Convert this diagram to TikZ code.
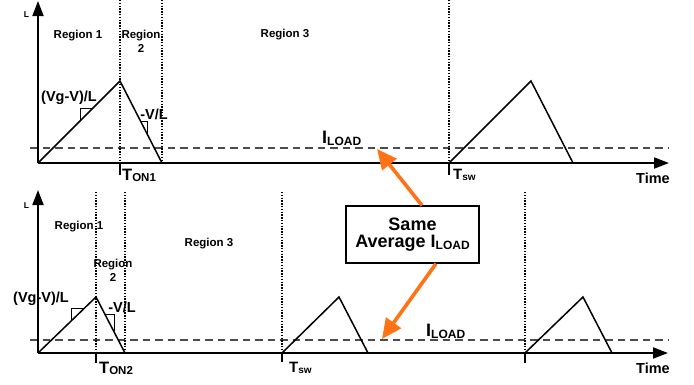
\documentclass[tikz,border=0pt]{standalone}
\usepackage{fontspec}
\setmainfont{Liberation Sans}
\usetikzlibrary{arrows.meta}
\definecolor{orng}{RGB}{255,115,20}
\newcommand{\fs}[1]{\fontsize{#1}{#1}\selectfont}
\begin{document}
\begin{tikzpicture}[x=1pt,y=-1pt,
  axis/.style={line width=1.9pt,-{Triangle[length=15pt,width=11pt]}},
  wave/.style={line width=1.5pt,line join=miter},
  loadline/.style={line width=1.1pt,black!70,dash pattern=on 7.5pt off 5pt},
  vdot/.style={line width=1.4pt,dash pattern=on 1.3pt off 1.5pt},
  tickmark/.style={line width=1.3pt},
  ramark/.style={line width=1pt},
  lbl/.style={inner sep=0pt,anchor=base,font=\bfseries},
  reg/.style={lbl,font=\fs{11.5}\bfseries},
  slope/.style={lbl,font=\fs{14.5}\bfseries},
  oarrow/.style={orng,line width=3.6pt,-{Triangle[length=20pt,width=18pt]}},
  note/.style={draw,line width=1.3pt,minimum width=133pt,minimum height=57pt,
    align=center,font=\fs{18}\bfseries,inner sep=0pt}
]
\useasboundingbox (0,0) rectangle (694,384);

% ---------------- top panel ----------------
\coordinate (o1) at (38,163);
\coordinate (ya1) at (38,1);
\coordinate (xa1) at (669,163);
\coordinate (p1) at (120,81);
\coordinate (q1) at (162,163);
\coordinate (s1) at (449,163);
\coordinate (p2) at (531,81);
\coordinate (q2) at (573,163);
\coordinate (d1a) at (30,148);
\coordinate (d1b) at (669,148);

\draw[loadline] (d1a) -- (d1b);
\draw[vdot] (120,0) -- (120,163);
\draw[vdot] (162,0) -- (162,163);
\draw[vdot] (449,0) -- (s1);
\draw[tickmark] (120,163) -- (120,175);
\draw[tickmark] (449,163) -- (449,175);
\draw[wave] (o1) -- (p1) -- (q1);
\draw[wave] (s1) -- (p2) -- (q2);
\draw[ramark] (80,121) -- (80,108) -- (93,108);
\draw[ramark] (140,121) -- (147,121) -- (147,134);
\draw[axis] (o1) -- (ya1);
\draw[axis] (o1) -- (xa1);

\node[lbl,font=\fs{8.5}\bfseries] (L1) at (26.5,17.5) {L};
\node[reg] (r11) at (78,38) {Region 1};
\node[reg] (r12) at (141,38) {Region};
\node[reg] (r12b) at (141,52) {2};
\node[reg] (r13) at (285,37) {Region 3};
\node[slope] (sl1) at (69,101) {(Vg-V)/L};
\node[slope] (sl2) at (154,119) {-V/L};
\node[lbl,anchor=base west] (ton1) at (122,180) {\fs{16.5}\bfseries T\fs{11.5}\bfseries\raisebox{-1.5pt}{ON1}};
\node[lbl,anchor=base west] (tsw1) at (453,179) {\fs{15}\bfseries T\fs{10}\bfseries\raisebox{-1.5pt}{sw}};
\node[lbl,anchor=base west] (il1) at (322,143) {\fs{18}\bfseries I\fs{12}\bfseries\raisebox{-2pt}{LOAD}};
\node[lbl,anchor=base east,font=\fs{14.5}\bfseries] (time1) at (670,183) {Time};

% ---------------- bottom panel ----------------
\coordinate (o2) at (38,353);
\coordinate (ya2) at (38,190);
\coordinate (xa2) at (668,353);
\coordinate (p3) at (96,297);
\coordinate (q3) at (125,353);
\coordinate (s2) at (282,353);
\coordinate (p4) at (339,297);
\coordinate (q4) at (368,353);
\coordinate (s3) at (525,353);
\coordinate (p5) at (583,297);
\coordinate (q5) at (612,353);
\coordinate (d2a) at (30,340);
\coordinate (d2b) at (668,340);

\draw[loadline] (d2a) -- (d2b);
\draw[vdot] (96,192) -- (96,353);
\draw[vdot] (125,192) -- (q3);
\draw[vdot] (282,192) -- (s2);
\draw[vdot] (525,192) -- (s3);
\draw[tickmark] (96,353) -- (96,363);
\draw[tickmark] (282,353) -- (282,362);
\draw[tickmark] (525,353) -- (525,363);
\draw[wave] (o2) -- (p3) -- (q3);
\draw[wave] (s2) -- (p4) -- (q4);
\draw[wave] (s3) -- (p5) -- (q5);
\draw[ramark] (71,321) -- (71,308) -- (84.6,308);
\draw[ramark] (105,314) -- (114,314) -- (114,331);
\draw[axis] (o2) -- (ya2);
\draw[axis] (o2) -- (xa2);

\node[lbl,font=\fs{8.5}\bfseries] (L2) at (26.5,208) {L};
\node[reg] (r21) at (79,229) {Region 1};
\node[reg] (r22) at (113,267) {Region};
\node[reg] (r22b) at (113,281) {2};
\node[reg] (r23) at (209,246) {Region 3};
\node[slope] (sl3) at (41,302) {(Vg-V)/L};
\node[slope] (sl4) at (122,312) {-V/L};
\node[lbl,anchor=base west] (ton2) at (99,373) {\fs{16.5}\bfseries T\fs{11.5}\bfseries\raisebox{-1.5pt}{ON2}};
\node[lbl,anchor=base west] (tsw2) at (289,372) {\fs{15}\bfseries T\fs{10}\bfseries\raisebox{-1.5pt}{sw}};
\node[lbl,anchor=base west] (il2) at (426,336) {\fs{18}\bfseries I\fs{12}\bfseries\raisebox{-2pt}{LOAD}};
\node[lbl,anchor=base east,font=\fs{14.5}\bfseries] (time2) at (670,373) {Time};

% ---------------- note box and arrows ----------------
\node[note,fill=white] (box) at (412.5,234.5) {Same\\[-1pt]Average I\fs{12}\bfseries\raisebox{-2pt}{LOAD}};
\coordinate (tip1) at (377,149);
\coordinate (tip2) at (382,339);
\draw[oarrow] ([xshift=9.5pt]box.north) -- (tip1);
\draw[oarrow] ([xshift=23.5pt]box.south) -- (tip2);
\end{tikzpicture}
\end{document}
